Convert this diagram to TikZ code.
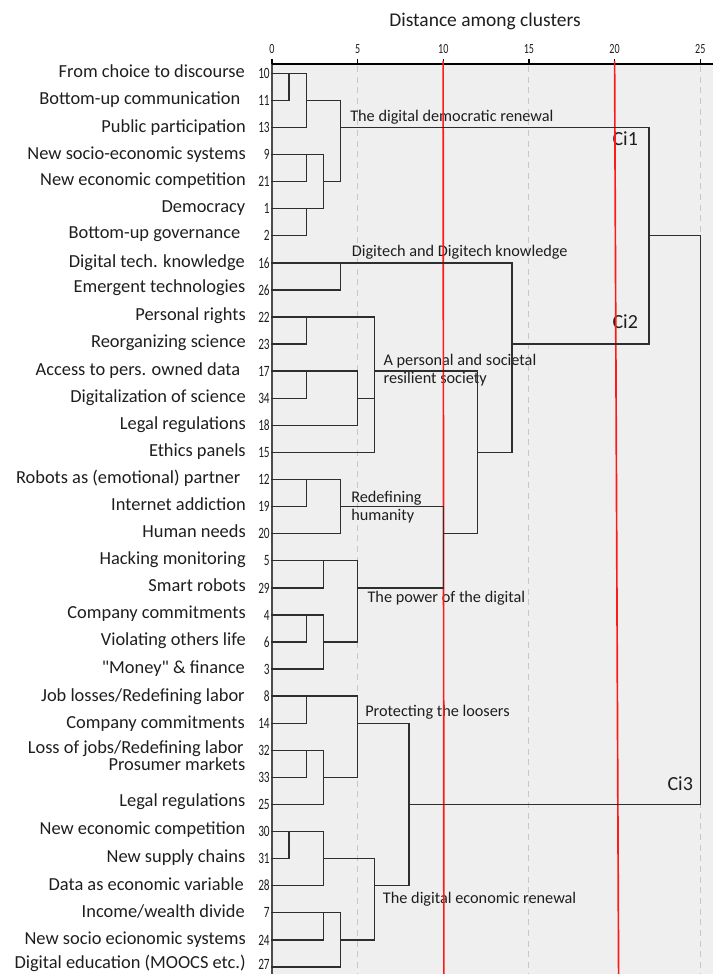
\documentclass[tikz,border=0pt]{standalone}
\usepackage{fontspec}
\setmainfont{Carlito}[Ligatures=TeXOff]
\usepackage{graphicx}
\definecolor{plotbg}{HTML}{EFEFEF}
\definecolor{gridc}{HTML}{C8C8C8}
\definecolor{redl}{HTML}{FF1A1A}
\definecolor{dend}{HTML}{2E2E2E}
\definecolor{txt}{HTML}{1E1E1E}
\newcommand\cnd[1]{\scalebox{0.72}[1]{#1}}
\newcommand\RY[1]{(73.3+27.08*((#1)-1))}
\newcommand\UX[1]{(272+17.13*(#1))}
\newcommand\leaf[6]{%
  \coordinate (L#1) at (272,{\RY{#1}});
  \node[leaflab] (lab#1) at (#4,{\RY{#1}+#5}) {#3};
  \node[numlab] (num#1) at (270,{\RY{#1}+#6}) {\cnd{#2}};
}
\newcommand\mrg[5]{%
  \coordinate (#1) at ({\UX{#4}},{\RY{#5}});
  \draw[dline] (#2) -- (#2 -| #1) -- (#3 -| #1) -- (#3);
}
\begin{document}
\begin{tikzpicture}[x=0.75pt,y=-0.75pt,
  leaflab/.style={inner sep=0pt, anchor=base east, text=txt, font=\fontsize{13.8}{14}\selectfont},
  numlab/.style={inner sep=0pt, anchor=base east, text=txt, font=\fontsize{11.8}{12}\selectfont},
  ticklab/.style={inner sep=0pt, anchor=base, text=txt, font=\fontsize{10.5}{11}\selectfont},
  clab/.style={inner sep=0pt, anchor=base west, text=txt, font=\fontsize{12.2}{13}\selectfont},
  cilab/.style={inner sep=0pt, anchor=base west, text=txt, font=\fontsize{15}{16}\selectfont},
  ttl/.style={inner sep=0pt, anchor=base, text=txt, font=\fontsize{14.6}{15}\selectfont},
  dline/.style={draw=dend, line width=1.05pt, line cap=rect},
  gridline/.style={draw=gridc, line width=0.8pt, dash pattern=on 4.5pt off 3.5pt},
  redline/.style={draw=redl, line width=1.25pt},
  axisline/.style={draw=black, line width=1pt}]
\useasboundingbox (0,0) rectangle (713,974);
% plot area
\fill[plotbg] (272,64) rectangle (713,974);
\foreach \t in {5,15,25} \draw[gridline] ({\UX{\t}},66) -- ({\UX{\t}},974);
\draw[draw=black!70, line width=0.9pt] (272,64) -- (272,974);
\draw[axisline] (272,64) -- (713,64);
\foreach \t in {0,5,...,25} {
  \draw[axisline] ({\UX{\t}},59.5) -- ({\UX{\t}},64);
  \node[ticklab] (tk\t) at ({\UX{\t}},53.3) {\cnd{\t}};
}
\node[ttl] (title) at (485,26.7) {Distance among clusters};
% leaves
\leaf{1}{10}{From choice to discourse}{245}{4}{5.2}
\leaf{2}{11}{Bottom-up communication}{240.5}{4.5}{5.2}
\leaf{3}{13}{Public participation}{246}{4.6}{5.2}
\leaf{4}{9}{New socio-economic systems}{246}{4.5}{5.2}
\leaf{5}{21}{New economic competition}{246}{3.6}{5.2}
\leaf{6}{1}{Democracy}{245.5}{3.6}{5.2}
\leaf{7}{2}{Bottom-up governance}{240.5}{2.8}{5.2}
\leaf{8}{16}{Digital tech. knowledge}{245}{4.6}{5.2}
\leaf{9}{26}{Emergent technologies}{245.5}{3}{5.2}
\leaf{10}{22}{Personal rights}{246}{3.2}{5.2}
\leaf{11}{23}{Reorganizing science}{246}{3.5}{5.2}
\leaf{12}{17}{Access to pers. owned data}{240.5}{4}{5.2}
\leaf{13}{34}{Digitalization of science}{246}{4}{5.2}
\leaf{14}{18}{Legal regulations}{246}{4}{5.2}
\leaf{15}{15}{Ethics panels}{246}{4}{5.2}
\leaf{16}{12}{Robots as (emotional) partner}{240.5}{4}{5.2}
\leaf{17}{19}{Internet addiction}{246}{4}{5.2}
\leaf{18}{20}{Human needs}{246}{4}{5.2}
\leaf{19}{5}{Hacking monitoring}{246}{4}{5.2}
\leaf{20}{29}{Smart robots}{246}{4}{5.2}
\leaf{21}{4}{Company commitments}{246}{4}{5.2}
\leaf{22}{6}{Violating others life}{246}{4}{5.2}
\leaf{23}{3}{"Money" \& finance}{245}{4.2}{5.2}
\leaf{24}{8}{Job losses/Redefining labor}{245}{5.2}{5.2}
\leaf{25}{14}{Company commitments}{245}{5}{5.2}
\leaf{26}{32}{Loss of jobs/Redefining labor}{244}{3}{5.2}
\leaf{27}{33}{Prosumer markets}{245.5}{-6.5}{5.2}
\leaf{28}{25}{Legal regulations}{245.5}{2.3}{5.2}
\leaf{29}{30}{New economic competition}{245.5}{3.4}{5.2}
\leaf{30}{31}{New supply chains}{245.5}{4}{5.2}
\leaf{31}{28}{Data as economic variable}{244}{4.3}{5.2}
\leaf{32}{7}{Income/wealth divide}{245}{4.8}{5.2}
\leaf{33}{24}{New socio ecionomic systems}{246}{5}{5.2}
\leaf{34}{27}{Digital education (MOOCS etc.)}{246}{1.8}{2.3}
% cluster labels
\node[clab] (tA) at (350,121) {The digital democratic renewal};
\node[clab] (tB) at (351.5,256.5) {Digitech and Digitech knowledge};
\node[clab] (tC1) at (383.3,365) {A personal and societal};
\node[clab] (tC2) at (383.3,383.3) {resilient society};
\node[clab] (tD1) at (351,502.7) {Redefining};
\node[clab] (tD2) at (351,520.7) {humanity};
\node[clab] (tE) at (367.3,602.7) {The power of the digital};
\node[clab] (tF) at (365,716.7) {Protecting the loosers};
\node[clab] (tG) at (382.7,903.3) {The digital economic renewal};
\node[cilab] (ci1) at (612.3,145) {Ci1};
\node[cilab] (ci2) at (612.3,328.3) {Ci2};
\node[cilab] (ci3) at (667.3,790.7) {Ci3};
% red cut lines
\coordinate (r1a) at ({\UX{10}-0.2},61);
\coordinate (r1b) at ({\UX{10}+0.6},974);
\coordinate (r2a) at ({\UX{20}},61);
\coordinate (r2b) at ({\UX{20}+4},974);
\draw[redline] (r1a) -- (r1b);
\draw[redline] (r2a) -- (r2b);
% dendrogram
\mrg{a1}{L1}{L2}{1}{1}
\mrg{a2}{a1}{L3}{2}{2}
\mrg{a3}{L4}{L5}{2}{4}
\mrg{a4}{L6}{L7}{2}{6}
\mrg{a5}{a3}{a4}{3}{5}
\mrg{cA}{a2}{a5}{4}{3}
\mrg{b1}{L8}{L9}{4}{8}
\mrg{c1}{L10}{L11}{2}{10}
\mrg{c2}{L12}{L13}{2}{12}
\mrg{c3}{c2}{L14}{5}{13}
\mrg{c4}{c3}{L15}{6}{14}
\mrg{cC}{c1}{c4}{6}{12}
\mrg{d1}{L16}{L17}{2}{16}
\mrg{cD}{d1}{L18}{4}{17}
\mrg{e1}{L19}{L20}{3}{19}
\mrg{e2}{L21}{L22}{2}{21}
\mrg{e3}{e2}{L23}{3}{22}
\mrg{cE}{e1}{e3}{5}{20}
\mrg{cDE}{cD}{cE}{10}{18}
\mrg{cCDE}{cC}{cDE}{12}{15}
\mrg{cBCDE}{b1}{cCDE}{14}{11}
\mrg{cTop}{cA}{cBCDE}{22}{7}
\mrg{f1}{L24}{L25}{2}{24}
\mrg{f2}{L26}{L27}{2}{26}
\mrg{f3}{f2}{L28}{3}{27}
\mrg{cF}{f1}{f3}{5}{25}
\mrg{g1}{L29}{L30}{1}{29}
\mrg{g2}{g1}{L31}{3}{30}
\mrg{g3}{L32}{L33}{3}{32}
\mrg{g4}{g3}{L34}{4}{33}
\mrg{cG}{g2}{g4}{6}{31}
\mrg{cFG}{cF}{cG}{8}{28}
\mrg{root}{cTop}{cFG}{25}{17}
\end{tikzpicture}
\end{document}
